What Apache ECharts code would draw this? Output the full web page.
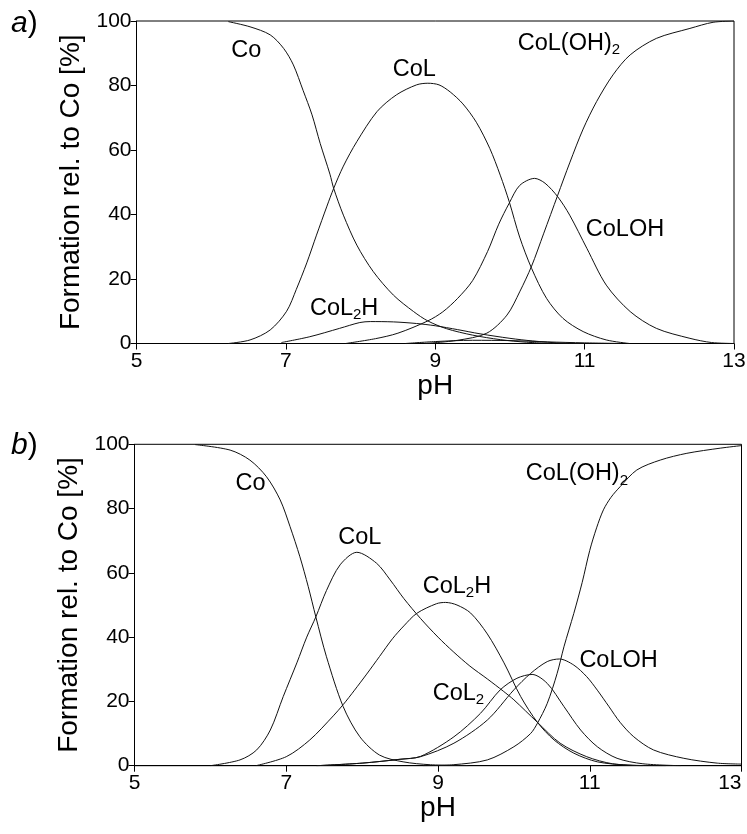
<!DOCTYPE html>
<html>
<head>
<meta charset="utf-8">
<script src="https://cdn.jsdelivr.net/npm/echarts@6/dist/echarts.min.js"></script>
<style>
html,body{margin:0;padding:0;background:#fff;}
#chart{width:747px;height:834px;}
</style>
</head>
<body>
<div id="chart"></div>
<script>
// ---- Data: [pH, % formation] ----
// Panel a)
const aCo = [[6.23,99.8],[6.52,98.2],[6.79,95.7],[6.97,91.5],[7.10,86.4],[7.23,78.5],[7.35,70.9],[7.46,62],[7.59,52.5],[7.64,48.1],[7.77,39.8],[7.95,30.5],[8.17,22.3],[8.44,15],[8.71,9.9],[8.9,7.0],[9.15,4.6],[9.5,2.6],[9.87,1.2],[10.22,0.4],[10.6,0]];
const aCoL = [[6.23,0],[6.52,1.1],[6.79,4.2],[7.01,10],[7.14,16.8],[7.28,25],[7.41,33.6],[7.55,42.6],[7.64,48.1],[7.77,55],[7.95,62.6],[8.22,71.9],[8.48,77.1],[8.75,80.2],[8.9,80.7],[9.05,80.2],[9.20,78],[9.37,74.3],[9.55,68.6],[9.73,60.5],[9.87,52.2],[9.99,44],[10.13,33],[10.29,23.3],[10.49,14],[10.71,7.8],[10.98,3.7],[11.29,1.1],[11.6,0]];
const aCoL2H = [[6.94,0.3],[7.32,2.1],[7.72,4.7],[7.99,6.5],[8.13,6.8],[8.44,6.7],[8.75,6.2],[9.0,5.5],[9.3,4.3],[9.6,3.0],[10.0,1.6],[10.3,0.8],[10.7,0.1],[11.0,0]];
const aCoLOH = [[7.8,0],[8.2,1.5],[8.5,3.2],[8.9,7.0],[9.1,9.8],[9.3,14],[9.5,19.5],[9.7,28.5],[9.85,37],[9.99,43.5],[10.13,49],[10.33,51.2],[10.47,49.7],[10.64,45.5],[10.8,39.8],[11.03,29.5],[11.29,18.1],[11.61,9.9],[11.96,4.7],[12.41,1.6],[12.7,0.3],[13,0]];
const aCoLOH2 = [[8.86,0],[9.3,1],[9.69,3.2],[9.96,8.8],[10.13,16],[10.29,24],[10.45,34],[10.64,46],[10.8,56],[10.98,66.5],[11.16,75],[11.38,83.3],[11.61,89.5],[11.96,94.6],[12.41,97.7],[12.72,99.6],[13,100]];
const aCoL2 = [[8.6,0],[9.0,0.6],[9.5,1.0],[10.0,0.9],[10.5,0.5],[11.0,0.2],[11.5,0]];
// Panel b)
const bCo = [[5.8,99.9],[6.26,98.2],[6.52,95.1],[6.74,89.9],[6.92,82.7],[7.05,74.4],[7.18,65],[7.29,55.7],[7.39,46.3],[7.53,33.9],[7.75,18.4],[7.97,9.0],[8.23,3.3],[8.54,1.2],[8.9,0.3],[9.4,0]];
const bCoL = [[6.0,0],[6.39,1.8],[6.61,4.9],[6.79,11.1],[6.96,21.5],[7.14,32],[7.27,40],[7.39,46.3],[7.53,54.5],[7.71,62.5],[7.93,66.4],[8.19,63],[8.37,57.8],[8.55,52],[8.77,45.8],[9.0,40],[9.2,35.5],[9.42,31],[9.65,27],[9.86,23.2],[10.0,20.5],[10.31,13.5],[10.61,7],[10.96,2.8],[11.3,0.6],[11.7,0]];
const bCoL2H = [[6.6,0],[7.0,2.8],[7.31,8],[7.62,15.5],[7.75,19],[7.9,23.5],[8.06,28.5],[8.23,34],[8.4,39.5],[8.55,43.5],[8.72,47.4],[8.98,50.4],[9.1,50.8],[9.25,50],[9.43,47.5],[9.65,41],[9.87,32],[10.09,21.5],[10.31,13.5],[10.53,8],[10.79,3.9],[11.1,1.2],[11.5,0.2],[12,0]];
const bCoL2 = [[7.4,0],[8.0,0.8],[8.5,2],[8.77,2.9],[9.21,9],[9.56,16.3],[9.82,23.6],[10.04,27.2],[10.24,28.4],[10.44,25.6],[10.66,18.4],[10.88,11.1],[11.1,5.9],[11.36,2.3],[11.7,0.6],[12.2,0]];
const bCoLOH = [[7.4,0],[8.0,0.8],[8.5,2],[8.77,2.8],[9.21,7],[9.65,14.2],[10.0,23.6],[10.22,28.7],[10.44,32.4],[10.6,33.2],[10.79,31.3],[10.96,27.7],[11.1,23.5],[11.25,18.5],[11.4,13.5],[11.58,9],[11.84,4.9],[12.24,2.3],[12.68,0.8],[13,0.5]];
const bCoLOH2 = [[8.8,0],[9.2,0.3],[9.65,1.8],[10.0,5.9],[10.22,10],[10.31,13.2],[10.44,19.4],[10.57,28.7],[10.66,37],[10.79,47.4],[10.9,57],[11.0,67],[11.09,74],[11.18,79.6],[11.28,83.5],[11.4,86.8],[11.62,92],[11.93,95.1],[12.28,97.2],[12.72,98.8],[13,99.6]];

const xTicks = [5, 7, 9, 11, 13];
const yTicks = [0, 20, 40, 60, 80, 100];

// Species labels: [pH, %, text]
const aLabels = [[6.47,90.9,'Co'],[8.72,85.1,'CoL'],[10.79,93.0,'CoL(OH)_2'],[11.54,35.2,'CoLOH'],[7.78,10.9,'CoL_2H']];
const bLabels = [[6.53,87.8,'Co'],[7.97,71.0,'CoL'],[9.25,55.8,'CoL_2H'],[10.83,90.8,'CoL(OH)_2'],[11.38,32.6,'CoLOH'],[9.27,22.6,'CoL_2']];

const FONT = '"Liberation Sans", Arial, Helvetica, sans-serif';
const INK = '#111';

function fmt(t) {
  return t.replace(/_(\d)/g, '{s|$1}').replace(/(^|\})([^{}]+)(?=\{|$)/g, function(m, p, txt){ return p + '{m|' + txt + '}'; });
}

function xAxisOf(i) {
  return {
    gridIndex: i, type: 'value', min: 5, max: 13, interval: 2,
    name: 'pH', nameLocation: 'middle', nameGap: 20,
    nameTextStyle: { fontFamily: FONT, fontSize: 28, color: '#000' },
    axisLine: { show: true, onZero: false, lineStyle: { color: '#000', width: 1 } },
    axisTick: { show: true, inside: false, length: 6, lineStyle: { color: '#000' } },
    axisLabel: { fontFamily: FONT, fontSize: 21, color: '#000', margin: 7,
      alignMaxLabel: i === 1 ? 'right' : null,
      formatter: v => xTicks.indexOf(v) >= 0 ? String(v) : '' },
    splitLine: { show: false }
  };
}
function yAxisOf(i, gap) {
  return {
    gridIndex: i, type: 'value', min: 0, max: 100, interval: 20,
    name: 'Formation rel. to Co [%]', nameLocation: 'middle', nameGap: gap, nameRotate: 90,
    nameTextStyle: { fontFamily: FONT, fontSize: 28, color: '#000' },
    axisLine: { show: true, lineStyle: { color: '#000', width: 1 } },
    axisTick: { show: true, inside: false, length: 6, lineStyle: { color: '#000' } },
    axisLabel: { fontFamily: FONT, fontSize: 21, color: '#000', margin: 5,
      formatter: v => yTicks.indexOf(v) >= 0 ? String(v) : '' },
    splitLine: { show: false }
  };
}
function line(data, gi, name) {
  return {
    type: 'line', name: name, xAxisIndex: gi, yAxisIndex: gi, data: data,
    showSymbol: false, smooth: 0.3, clip: true,
    lineStyle: { color: INK, width: 1 }, emphasis: { disabled: true }
  };
}
function labels(data, gi) {
  return {
    type: 'scatter', xAxisIndex: gi, yAxisIndex: gi, symbolSize: 0, silent: true,
    itemStyle: { opacity: 1 },
    data: data.map(d => [d[0], d[1], d[2]]),
    label: {
      show: true, position: 'inside', color: '#000', textBorderWidth: 0, textBorderColor: 'transparent',
      formatter: p => fmt(p.data[2]),
      rich: {
        m: { fontFamily: FONT, fontSize: 23.5, color: '#000', lineHeight: 28, textBorderWidth: 0 },
        s: { fontFamily: FONT, fontSize: 15, color: '#000', lineHeight: 11, verticalAlign: 'bottom', textBorderWidth: 0 }
      }
    }
  };
}

const chart = echarts.init(document.getElementById('chart'), null, { renderer: 'canvas' });
chart.setOption({
  animation: false,
  backgroundColor: '#fff',
  grid: [
    { left: 136.5, top: 21, width: 597.5, height: 322.5, outerBoundsMode: 'none', containLabel: false, show: true, borderColor: '#000', borderWidth: 1, backgroundColor: 'transparent' },
    { left: 134.5, top: 444.3, width: 607, height: 321.4, outerBoundsMode: 'none', containLabel: false, show: true, borderColor: '#000', borderWidth: 1, backgroundColor: 'transparent' }
  ],
  xAxis: [xAxisOf(0), xAxisOf(1)],
  yAxis: [yAxisOf(0, 49), yAxisOf(1, 50)],
  graphic: [
    { type: 'text', left: 11, top: 9, style: { text: '{i|a})', rich: { i: { fontFamily: FONT, fontStyle: 'italic', fontSize: 30, fill: '#000' } }, fontFamily: FONT, fontSize: 30, fill: '#000' } },
    { type: 'text', left: 11, top: 431, style: { text: '{i|b})', rich: { i: { fontFamily: FONT, fontStyle: 'italic', fontSize: 30, fill: '#000' } }, fontFamily: FONT, fontSize: 30, fill: '#000' } }
  ],
  series: [
    line(aCo, 0, 'Co'), line(aCoL, 0, 'CoL'), line(aCoL2H, 0, 'CoL2H'), line(aCoLOH, 0, 'CoLOH'), line(aCoLOH2, 0, 'CoL(OH)2'), line(aCoL2, 0, 'CoL2'),
    line(bCo, 1, 'Co'), line(bCoL, 1, 'CoL'), line(bCoL2H, 1, 'CoL2H'), line(bCoL2, 1, 'CoL2'), line(bCoLOH, 1, 'CoLOH'), line(bCoLOH2, 1, 'CoL(OH)2'),
    labels(aLabels, 0), labels(bLabels, 1)
  ]
});
</script>
</body>
</html>
